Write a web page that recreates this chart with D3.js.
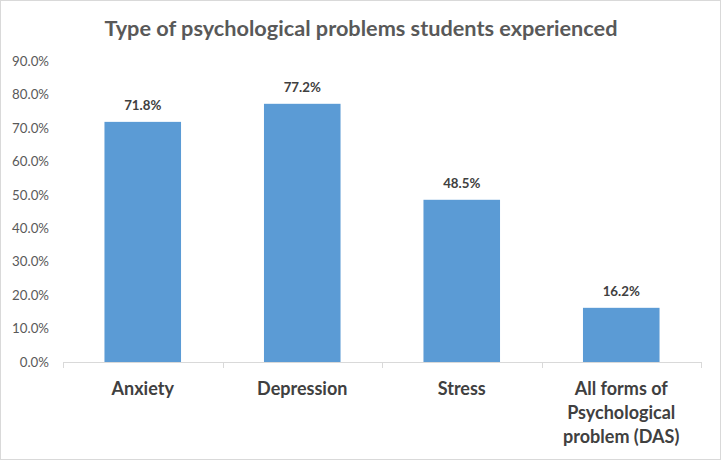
<!DOCTYPE html>
<html><head><meta charset="utf-8">
<script src="https://cdn.jsdelivr.net/npm/d3@7"></script>
<style>body{margin:0;background:#fff}svg{display:block}</style>
</head><body>
<svg id="c" width="721" height="460"></svg>
<script>
const categories = [["Anxiety"], ["Depression"], ["Stress"], ["All forms of", "Psychological", "problem (DAS)"]];
const values = [71.8, 77.2, 48.5, 16.2];
const yTicks = [0, 10, 20, 30, 40, 50, 60, 70, 80, 90];
const title = "Type of psychological problems students experienced";

const svg = d3.select("#c");
const font = "Lato, 'Open Sans', sans-serif";
svg.append("rect").attr("x", 0.5).attr("y", 0.5).attr("width", 720).attr("height", 459)
  .attr("fill", "#fff").attr("stroke", "#d9d9d9");

const pLeft = 63, pRight = 701, pTop = 61, pBottom = 362;
const keys = categories.map((c, i) => i);
const x = d3.scaleBand().domain(keys).range([pLeft, pRight]).paddingInner(0.52).paddingOuter(0.26);
const y = d3.scaleLinear().domain([0, 90]).range([pBottom, pTop]);

svg.append("text").attr("x", 361).attr("y", 36).attr("text-anchor", "middle")
  .attr("font-family", font).attr("font-weight", "bold").attr("font-size", 21.7)
  .attr("fill", "#595959").text(title);

// y axis
const ya = svg.append("g").attr("transform", `translate(${pLeft},0)`)
  .call(d3.axisLeft(y).tickValues(yTicks).tickFormat(d => d.toFixed(1) + "%").tickSize(0).tickPadding(14));
ya.select(".domain").remove();
ya.selectAll("text").attr("font-family", font).attr("font-size", 13.3).attr("fill", "#595959");

// x axis
const xa = svg.append("g").attr("transform", `translate(0,${pBottom})`)
  .call(d3.axisBottom(x).tickSize(0).tickFormat(""));
xa.select(".domain").attr("stroke", "#d9d9d9").attr("d", `M${pLeft},0.5H${pRight}`);
xa.selectAll(".tick").remove();
d3.range(keys.length + 1).forEach(i => {
  const tx = Math.round(pLeft + i * (pRight - pLeft) / keys.length) + 0.5;
  xa.append("line").attr("x1", tx).attr("x2", tx).attr("y1", 0).attr("y2", 6).attr("stroke", "#d9d9d9");
});

// bars
svg.append("g").selectAll("rect").data(values).join("rect")
  .attr("x", (d, i) => x(i)).attr("width", x.bandwidth())
  .attr("y", d => y(d)).attr("height", d => y(0) - y(d))
  .attr("fill", "#5b9bd5");

// data labels
svg.append("g").selectAll("text").data(values).join("text")
  .attr("x", (d, i) => x(i) + x.bandwidth() / 2).attr("y", d => y(d) - 12)
  .attr("text-anchor", "middle").attr("font-family", font).attr("font-weight", "bold")
  .attr("font-size", 13.3).attr("fill", "#404040").text(d => d.toFixed(1) + "%");

// category labels
const cl = svg.append("g").selectAll("text").data(categories).join("text")
  .attr("x", (d, i) => x(i) + x.bandwidth() / 2).attr("y", 395)
  .attr("text-anchor", "middle").attr("font-family", font).attr("font-weight", "bold")
  .attr("font-size", 18).attr("fill", "#404040");
cl.selectAll("tspan").data(d => d).join("tspan")
  .attr("x", function () { return this.parentNode.getAttribute("x"); })
  .attr("dy", (d, i) => i === 0 ? 0 : 24).text(d => d);
</script>
</body></html>
